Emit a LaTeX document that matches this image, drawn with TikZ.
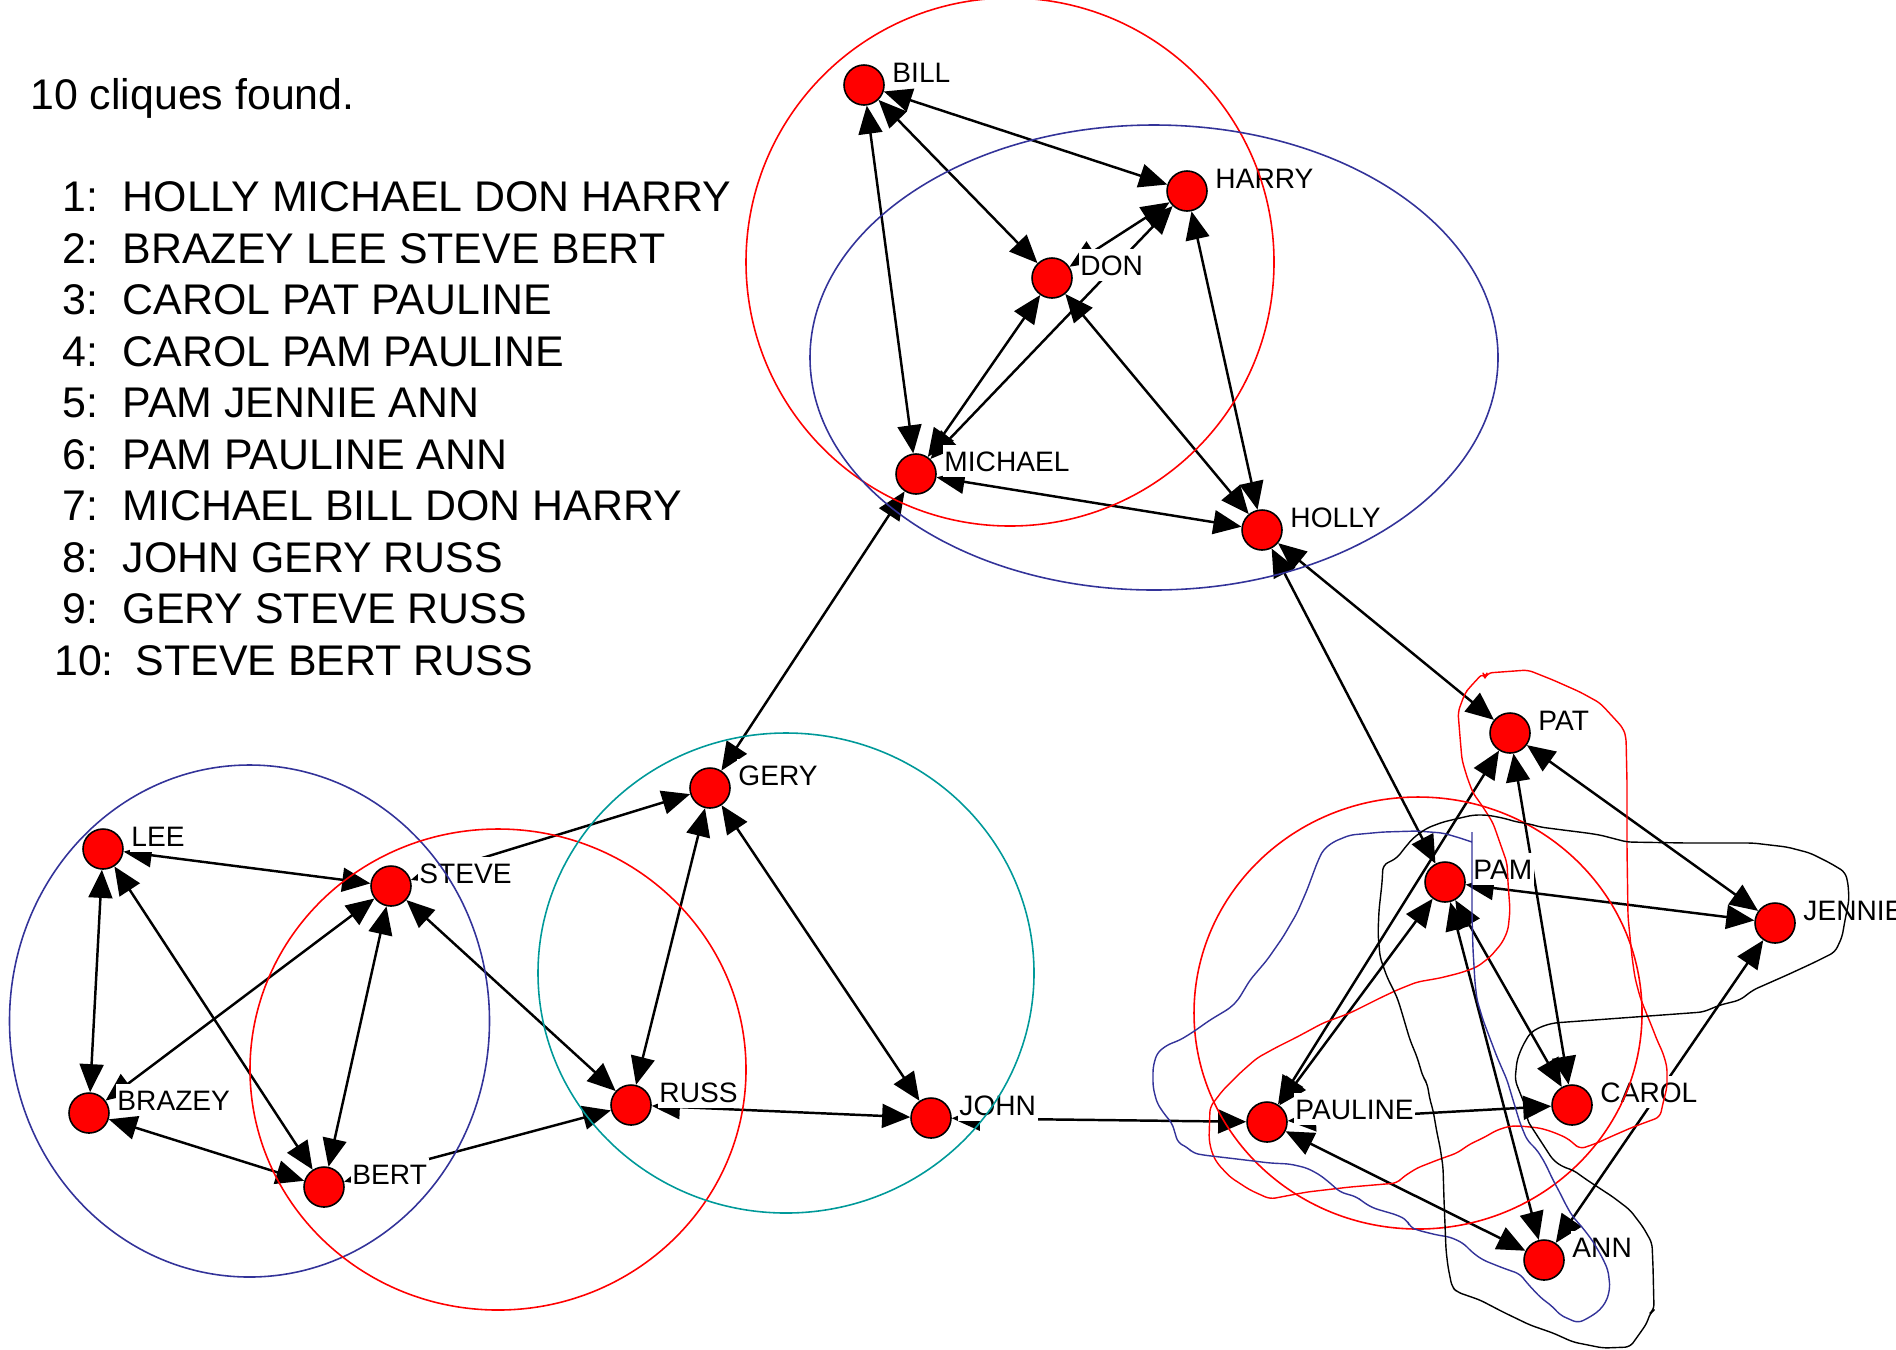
\documentclass[tikz,border=0pt]{standalone}
\usepackage{fontspec}
\setmainfont{Liberation Sans}
\usetikzlibrary{arrows.meta}
\definecolor{cliquered}{RGB}{255,0,0}
\definecolor{cliqueblue}{RGB}{51,51,153}
\definecolor{cliqueteal}{RGB}{0,153,153}
\begin{document}
\begin{tikzpicture}[x=0.1mm,y=-0.1mm,
  person/.style={circle, draw=black, line width=0.45pt, fill=red, minimum size=4mm, inner sep=0pt},
  tag/.style={anchor=base west, fill=white, font=\fontsize{8}{9}\selectfont,
              inner xsep=0.5pt, inner ysep=1.7pt, text height=5.8pt, text depth=0pt},
  tie/.style={line width=0.7pt, {Triangle[length=8pt,width=6.8pt]}-{Triangle[length=8pt,width=6.8pt]}},
  ring/.style={line width=0.45pt},
  blob/.style={line width=0.4pt, line join=round, rounded corners=1.5pt},
  listtext/.style={anchor=base west, inner sep=0pt, font=\fontsize{12.2}{14}\selectfont}]
\clip (0,0) rectangle (1896,1349);

% ---- clique listing
\node[listtext] (title) at (29.7,109.5) {10 cliques found.};
\foreach \n/\names [count=\k] in {1/HOLLY MICHAEL DON HARRY, 2/BRAZEY LEE STEVE BERT,
    3/CAROL PAT PAULINE, 4/CAROL PAM PAULINE, 5/PAM JENNIE ANN, 6/PAM PAULINE ANN,
    7/MICHAEL BILL DON HARRY, 8/JOHN GERY RUSS, 9/GERY STEVE RUSS}{
  \node[listtext] (num\k) at (62,{211.7+51.5*(\k-1)}) {\n:};
  \node[listtext] (item\k) at (122,{211.7+51.5*(\k-1)}) {\names};
}
\node[listtext] (num10) at (53.6,675.2) {10:};
\node[listtext] (item10) at (135,675.2) {STEVE BERT RUSS};

% ---- actors
\coordinate (BILL) at (864,85);
\coordinate (HARRY) at (1187,191);
\coordinate (DON) at (1052,278);
\coordinate (MICHAEL) at (916,474);
\coordinate (HOLLY) at (1262,530);
\coordinate (GERY) at (710,788);
\coordinate (LEE) at (103,849);
\coordinate (STEVE) at (391,886);
\coordinate (BRAZEY) at (89,1113);
\coordinate (BERT) at (324,1187);
\coordinate (RUSS) at (631,1105);
\coordinate (JOHN) at (931,1118);
\coordinate (PAT) at (1510,733);
\coordinate (PAM) at (1445,882);
\coordinate (JENNIE) at (1775,923);
\coordinate (PAULINE) at (1267,1122);
\coordinate (CAROL) at (1572,1105);
\coordinate (ANN) at (1544,1260);

\foreach \p in {BILL,HARRY,DON,MICHAEL,HOLLY,GERY,LEE,STEVE,BRAZEY,BERT,RUSS,JOHN,
                PAT,PAM,JENNIE,PAULINE,CAROL,ANN}
  \node[person, draw=none, fill=none] (n\p) at (\p) {};

% ---- ties (reciprocated)
\foreach \a/\b in {BILL/HARRY, BILL/DON, BILL/MICHAEL, DON/HARRY, MICHAEL/HARRY,
    MICHAEL/DON, DON/HOLLY, HARRY/HOLLY, MICHAEL/HOLLY, MICHAEL/GERY, HOLLY/PAM,
    HOLLY/PAT, LEE/STEVE, LEE/BRAZEY, LEE/BERT, BRAZEY/STEVE, STEVE/BERT,
    BRAZEY/BERT, STEVE/RUSS, BERT/RUSS, STEVE/GERY, GERY/RUSS, GERY/JOHN,
    RUSS/JOHN, JOHN/PAULINE, PAT/PAULINE, PAT/CAROL, PAT/JENNIE, PAM/PAULINE,
    PAM/JENNIE, PAM/CAROL, PAM/ANN, PAULINE/CAROL, PAULINE/ANN, JENNIE/ANN}
  \draw[tie] (n\a) -- (n\b);

% ---- name tags
\foreach \p in {BILL,HARRY,DON,MICHAEL,HOLLY,GERY,LEE,STEVE,BRAZEY,BERT,RUSS,JOHN,
                PAT,PAM,JENNIE,PAULINE,CAROL,ANN}
  \node[tag] (l\p) at ([shift={(26,-3)}]\p) {\p};

% ---- actor discs
\foreach \p in {BILL,HARRY,DON,MICHAEL,HOLLY,GERY,LEE,STEVE,BRAZEY,BERT,RUSS,JOHN,
                PAT,PAM,JENNIE,PAULINE,CAROL,ANN}
  \node[person] at (\p) {};

% ---- clique outlines
\draw[ring, cliquered] (1010,262) ellipse [x radius=264, y radius=264];
\draw[ring, cliqueblue] (1154,357.5) ellipse [x radius=344, y radius=232.5];
\draw[ring, cliqueblue] (249.5,1021) ellipse [x radius=240, y radius=256];
\draw[ring, cliquered] (498,1069.5) ellipse [x radius=248, y radius=240.5];
\draw[ring, cliqueteal] (786,973) ellipse [x radius=248, y radius=240];
\draw[ring, cliquered] (1418,1013) ellipse [x radius=224, y radius=216];

% hand-drawn outline: CAROL PAT PAULINE
\draw[blob, cliquered] (1483,673) -- (1485,678) -- (1487,673) -- (1528,670) -- (1553,680)
  -- (1580,692) -- (1600,703) -- (1613,717) -- (1623,728) -- (1626,737) -- (1627,783)
  -- (1627,850) -- (1628,917) -- (1632,957) -- (1635,978) -- (1640,997) -- (1645,1010)
  -- (1652,1027) -- (1657,1040) -- (1663,1053) -- (1667,1067) -- (1667,1087) -- (1663,1103)
  -- (1660,1117) -- (1633,1127) -- (1610,1137) -- (1597,1143) -- (1580,1149) -- (1573,1143)
  -- (1567,1138) -- (1553,1132) -- (1540,1128) -- (1520,1126) -- (1510,1126) -- (1497,1130)
  -- (1483,1138) -- (1470,1144) -- (1457,1153) -- (1440,1159) -- (1417,1168) -- (1403,1177)
  -- (1397,1183) -- (1350,1187) -- (1307,1192) -- (1270,1199) -- (1250,1190) -- (1230,1177)
  -- (1217,1163) -- (1212,1153) -- (1209,1140) -- (1210,1107) -- (1223,1090) -- (1240,1073)
  -- (1257,1058) -- (1277,1047) -- (1297,1037) -- (1323,1023) -- (1350,1013) -- (1380,998)
  -- (1397,990) -- (1417,982) -- (1440,978) -- (1460,973) -- (1477,967) -- (1490,957)
  -- (1502,943) -- (1508,930) -- (1510,910) -- (1508,883) -- (1507,863) -- (1500,843)
  -- (1493,823) -- (1483,807) -- (1473,793) -- (1467,777) -- (1462,760) -- (1460,737)
  -- (1458,712) -- (1465,693) -- (1470,687) -- cycle;

% hand-drawn outline: PAM PAULINE ANN
\draw[blob, cliqueblue] (1472,832) -- (1472,875) -- (1472,917) -- (1473,950) -- (1475,983)
  -- (1477,1000) -- (1483,1020) -- (1497,1057) -- (1507,1080) -- (1513,1100) -- (1520,1123)
  -- (1527,1140) -- (1537,1150) -- (1545,1163) -- (1553,1180) -- (1560,1193) -- (1567,1207)
  -- (1573,1217) -- (1582,1227) -- (1592,1240) -- (1602,1257) -- (1608,1270) -- (1610,1287)
  -- (1607,1300) -- (1600,1310) -- (1590,1317) -- (1578,1323) -- (1560,1315) -- (1553,1307)
  -- (1540,1297) -- (1527,1283) -- (1520,1274) -- (1503,1268) -- (1483,1260) -- (1473,1253)
  -- (1463,1243) -- (1450,1237) -- (1437,1235) -- (1417,1230) -- (1410,1227) -- (1407,1220)
  -- (1397,1215) -- (1373,1208) -- (1363,1202) -- (1357,1197) -- (1340,1192) -- (1330,1183)
  -- (1320,1175) -- (1307,1168) -- (1290,1164) -- (1270,1163) -- (1237,1159) -- (1203,1155)
  -- (1193,1153) -- (1187,1147) -- (1178,1143) -- (1175,1133) -- (1172,1123) -- (1165,1115)
  -- (1157,1103) -- (1153,1087) -- (1153,1067) -- (1157,1053) -- (1167,1045) -- (1180,1040)
  -- (1193,1032) -- (1210,1020) -- (1230,1008) -- (1238,1000) -- (1250,980) -- (1267,960)
  -- (1283,937) -- (1297,913) -- (1307,890) -- (1317,863) -- (1323,850) -- (1333,842)
  -- (1350,835) -- (1383,832) -- (1417,831) -- (1443,833) -- (1460,838) -- (1472,842);

% hand-drawn outline: PAM JENNIE ANN
\draw[blob, black] (1383,865) -- (1397,858) -- (1403,850) -- (1413,838) -- (1427,828)
  -- (1443,822) -- (1460,818) -- (1473,815) -- (1487,815) -- (1503,818) -- (1517,822)
  -- (1530,824) -- (1540,827) -- (1563,830) -- (1587,833) -- (1600,835) -- (1627,842)
  -- (1687,843) -- (1753,843) -- (1787,847) -- (1810,853) -- (1830,863) -- (1845,872)
  -- (1848,883) -- (1849,900) -- (1845,920) -- (1842,937) -- (1835,952) -- (1813,963)
  -- (1787,975) -- (1753,990) -- (1740,1000) -- (1720,1005) -- (1703,1012) -- (1553,1023)
  -- (1540,1027) -- (1530,1033) -- (1522,1047) -- (1517,1060) -- (1515,1080) -- (1520,1093)
  -- (1527,1110) -- (1527,1120) -- (1540,1140) -- (1553,1160) -- (1563,1167) -- (1573,1170)
  -- (1587,1180) -- (1613,1197) -- (1630,1210) -- (1643,1227) -- (1652,1243) -- (1653,1267)
  -- (1654,1310) -- (1650,1313) -- (1647,1323) -- (1640,1333) -- (1630,1347) -- (1603,1348)
  -- (1573,1342) -- (1553,1333) -- (1530,1325) -- (1503,1312) -- (1480,1300) -- (1457,1292)
  -- (1452,1287) -- (1448,1267) -- (1446,1250) -- (1444,1200) -- (1443,1167) -- (1440,1147)
  -- (1437,1133) -- (1433,1110) -- (1430,1100) -- (1427,1083) -- (1423,1077) -- (1420,1067)
  -- (1417,1057) -- (1410,1040) -- (1407,1030) -- (1402,1013) -- (1398,1000) -- (1395,993)
  -- (1387,977) -- (1380,957) -- (1378,933) -- (1379,910) -- (1382,883) -- cycle;
\end{tikzpicture}
\end{document}
